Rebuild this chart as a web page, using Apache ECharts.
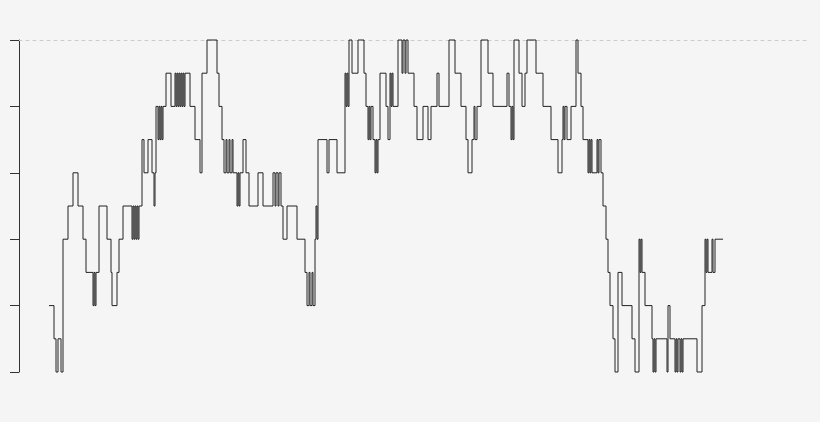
<!DOCTYPE html>
<html>
<head>
<meta charset="utf-8">
<title>step chart</title>
<script src="https://cdn.jsdelivr.net/npm/echarts@6/dist/echarts.min.js"></script>
<style>
html,body{margin:0;padding:0;background:#f5f5f5;}
#main{width:820px;height:422px;}
</style>
</head>
<body>
<div id="main"></div>
<script>
// day on which the value changes, and the value from that day on
var days = [
	0,5,7,9,12,14,19,24,29,34,37,44,45,46,47,50,58,62,63,68,70,74,
	83,84,85,86,87,88,89,90,93,95,99,103,105,106,107,109,110,111,112,113,114,
	117,122,126,127,128,129,130,131,132,133,134,135,136,141,146,151,153,158,
	168,170,173,175,177,178,180,181,183,184,188,189,190,191,194,197,200,209,214,
	224,226,227,229,230,232,234,238,248,256,258,260,261,263,264,266,267,268,269,
	278,280,288,296,297,298,299,300,303,309,315,317,319,320,321,322,324,326,327,328,329,
	331,337,339,341,342,343,344,349,353,354,356,357,359,365,368,374,379,382,388,390,
	400,406,412,417,419,423,425,426,428,432,439,444,458,460,462,463,464,465,470,473,476,478,
	487,494,502,509,513,514,515,516,518,522,527,529,532,534,539,540,541,542,543,
	548,549,550,552,554,557,559,561,564,566,569,573,583,586,590,591,592,593,596,
	603,604,605,606,607,618,619,621,626,627,628,629,631,632,633,634,648,653,656,
	657,658,659,663,664,666,674
];
var levels = [
	2,1,0,1,0,4,5,6,5,4,3,2,3,2,3,5,4,3,2,3,4,5,
	4,5,4,5,4,5,4,5,7,6,7,6,5,6,8,7,8,7,8,7,8,
	9,8,9,8,9,8,9,8,9,8,9,8,9,8,7,6,9,10,
	9,8,7,6,7,6,7,6,7,6,5,6,5,6,7,6,5,6,5,
	6,5,6,5,6,5,4,5,4,3,2,3,2,3,2,4,5,4,7,
	6,7,6,9,8,9,8,10,9,10,9,8,7,8,7,8,7,6,7,6,7,
	9,8,7,9,8,9,8,10,9,10,9,10,9,8,7,8,7,8,9,8,
	10,9,8,7,6,7,8,7,8,10,9,8,9,8,7,8,7,10,9,8,9,10,
	9,8,7,6,7,8,7,8,7,8,10,9,8,7,6,7,6,7,6,
	7,6,7,6,5,4,3,2,1,0,3,2,1,0,4,3,4,3,2,
	1,0,1,0,1,0,2,1,0,1,0,1,0,1,0,1,0,2,4,
	3,4,3,4,3,4,4
];
var yTicks = [0,2,4,6,8,10];

// each item: [day, value, next day, next value]
function buildData(){
	var arr = [];
	for(var i=0;i<days.length;i++){
		var j = (i < days.length-1) ? i+1 : i;
		arr.push([days[i], levels[i], days[j], levels[j]]);
	}
	return arr;
}

// one step per item: flat until the next day, then up/down
// (custom series, the line series drops steps under 2px wide)
function renderStep(params, api){
	var p0 = api.coord([api.value(0), api.value(1)]);
	var p1 = api.coord([api.value(2), api.value(1)]);
	var p2 = api.coord([api.value(2), api.value(3)]);
	return {
		type:'polyline',
		shape:{points:[p0,p1,p2]},
		style:{stroke:'#222', lineWidth:1, fill:null}
	};
}

var myChart = echarts.init(document.getElementById('main'));
myChart.setOption({
	backgroundColor:'#f5f5f5',
	animation:false,
	grid:{left:19, right:10, top:40, bottom:50},
	xAxis:{
		type:'value',
		min:-30,
		max:761,
		position:'top',
		axisLine:{show:true, onZero:false, lineStyle:{color:'#ccc', width:1, type:[3,4]}},
		axisTick:{show:false},
		axisLabel:{show:false},
		splitLine:{show:false}
	},
	yAxis:{
		type:'value',
		min:yTicks[0],
		max:yTicks[yTicks.length-1],
		interval:yTicks[1]-yTicks[0],
		axisLine:{show:true, onZero:false, lineStyle:{color:'#333', width:1}},
		axisTick:{show:true, length:9, lineStyle:{color:'#333'}},
		axisLabel:{show:false},
		splitLine:{show:false}
	},
	series:[{
		type:'custom',
		renderItem:renderStep,
		encode:{x:[0,2], y:[1,3]},
		data:buildData()
	}]
});
</script>
</body>
</html>
